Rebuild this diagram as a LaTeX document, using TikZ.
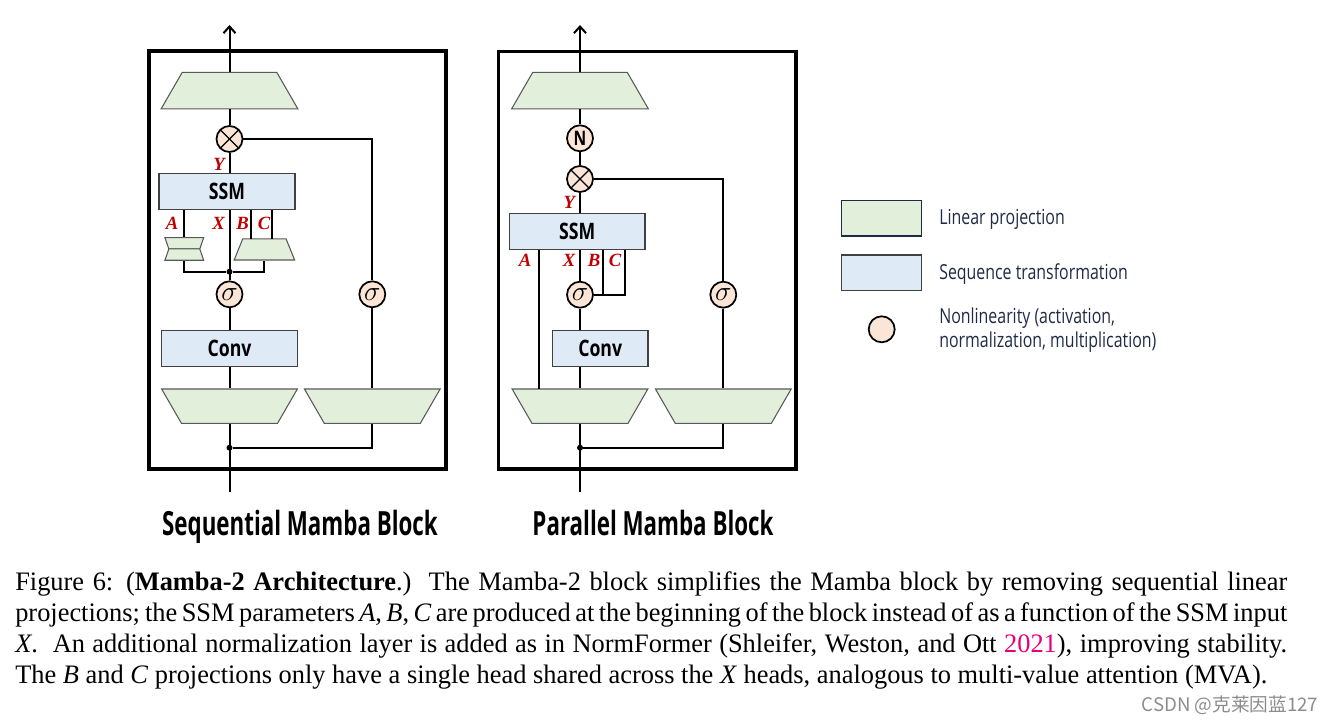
\documentclass[tikz,border=0pt]{standalone}
\usepackage{fontspec}
\usetikzlibrary{positioning,shapes.geometric,arrows.meta}
\setmainfont{Liberation Serif}
\newfontfamily\capfont[FakeStretch=0.99]{Liberation Serif}
\newfontfamily\condfont[FakeStretch=0.78]{Open Sans}
\newfontfamily\legfont[FakeStretch=0.77]{Open Sans}
\newfontfamily\titlefont[FakeStretch=0.67]{Open Sans}
\newfontfamily\cjkfont{Noto Sans CJK SC}
\definecolor{lingreen}{HTML}{E2EFDA}
\definecolor{seqblue}{HTML}{DEEBF7}
\definecolor{nlpeach}{HTML}{FBE5D6}
\definecolor{lblred}{HTML}{C00000}
\definecolor{citepink}{HTML}{E6007E}
\definecolor{legnavy}{HTML}{1F2A44}

\begin{document}
\begin{tikzpicture}[x=0.75pt,y=-0.75pt,
    wire/.style={line width=1.5pt},
    outarrow/.style={wire, -{Straight Barb[length=5pt,width=9pt]}},
    blockframe/.style={line width=2.3pt},
    lin/.style={trapezium, draw=black!65, line width=0.8pt, fill=lingreen,
      minimum width=0pt, minimum height=0pt},
    linup/.style={lin, trapezium angle=60, inner xsep=35.5pt, inner ysep=13.7pt},
    lindn/.style={lin, trapezium angle=120, inner xsep=36pt, inner ysep=12.9pt},
    linbc/.style={lin, trapezium angle=68, inner xsep=16.3pt, inner ysep=7.9pt},
    linaup/.style={lin, trapezium angle=109, inner xsep=11.6pt, inner ysep=4.25pt},
    linadn/.style={lin, trapezium angle=71, inner xsep=11.6pt, inner ysep=4.25pt},
    seq/.style={draw=black!75, line width=1pt, fill=seqblue, minimum height=27pt,
      font=\condfont\bfseries\fontsize{17}{17}\selectfont},
    nl/.style={circle, draw, line width=1.3pt, fill=nlpeach, minimum size=19.5pt,
      inner sep=0pt, font=\fontsize{22}{22}\selectfont},
    mul/.style={nl, path picture={
      \draw[line width=0.9pt] ([shift={(45:9.75pt)}]path picture bounding box.center)
        -- ([shift={(225:9.75pt)}]path picture bounding box.center);
      \draw[line width=0.9pt] ([shift={(135:9.75pt)}]path picture bounding box.center)
        -- ([shift={(315:9.75pt)}]path picture bounding box.center);}},
    dot/.style={circle, fill, inner sep=0pt, minimum size=4.5pt},
    lbl/.style={text=lblred, font=\bfseries\itshape\fontsize{14}{14}\selectfont, inner sep=0pt},
    title/.style={anchor=base, font=\titlefont\bfseries\fontsize{25}{25}\selectfont},
    legtxt/.style={anchor=west, inner sep=0pt, text=legnavy, align=left,
      font=\legfont\fontsize{15.5}{17.8}\selectfont}]
\useasboundingbox (0,0) rectangle (1332,723);

% sequential block
\draw[blockframe] (149,51) rectangle (446,469);
\node[linup] (outpL) at (229.5,90.7) {};
\node[mul] (mulL) at (229.5,139) {};
\node[lbl] (yL) at (219,164) {Y};
\node[seq, minimum width=102pt] (ssmL) at (227,191.3) {SSM};
\node[linaup] (aupL) at (184.3,243.3) {};
\node[linadn] (adnL) at (184.3,254.6) {};
\node[linbc] (bcL) at (264.4,249.5) {};
\coordinate (bL) at (251,239);
\coordinate (cL) at (272.3,239);
\node[lbl] (aLl) at (172,223) {A};
\node[lbl] (xLl) at (218.7,223) {X};
\node[lbl] (bLl) at (242.7,223) {B};
\node[lbl] (cLl) at (264,223) {C};
\node[dot] (jL) at (229.5,271.7) {};
\node[nl] (sig1L) at (229.5,294.3) {$\sigma$};
\node[nl] (sig2L) at (372.3,294.3) {$\sigma$};
\node[seq, minimum width=101.7pt] (convL) at (229.5,348.7) {Conv};
\node[lindn] (inpL) at (229.5,406.2) {};
\node[lindn] (gateL) at (372.3,406.2) {};
\node[dot] (dotL) at (229.5,447.7) {};
\coordinate (inL) at (229.5,492.3);
\coordinate (topL) at (229.5,25);

\draw[outarrow] (outpL.north) -- (topL);
\draw[wire] (mulL.north) -- (outpL.south);
\draw[wire] (ssmL.north -| mulL) -- (mulL.south);
\draw[wire] (mulL.east) -| (sig2L.north);
\draw[wire] (ssmL.south -| aupL) -- (aupL.north);
\draw[wire] (adnL.south) |- (jL);
\draw[wire] (jL) -| (bcL.south);
\draw[wire] (ssmL.south -| bL) -- (bL);
\draw[wire] (ssmL.south -| cL) -- (cL);
\draw[wire] (sig1L.north) -- (ssmL.south -| sig1L);
\draw[wire] (convL.north) -- (sig1L.south);
\draw[wire] (inpL.north) -- (convL.south);
\draw[wire] (gateL.north) -- (sig2L.south);
\draw[wire] (inL) -- (inpL.south);
\draw[wire] (dotL) -| (gateL.south);

% parallel block
\draw[blockframe] (498.3,51.7) rectangle (796,469);
\node[linup] (outpR) at (580,90.7) {};
\node[nl, font=\condfont\bfseries\fontsize{15}{15}\selectfont] (normR) at (580,138.3) {N};
\node[mul] (mulR) at (580,179) {};
\node[lbl] (yR) at (569.3,202.7) {Y};
\node[seq, minimum width=101.8pt] (ssmR) at (577.2,231.3) {SSM};
\coordinate (aR) at (539,389);
\coordinate (bR) at (603.3,294.7);
\coordinate (cR) at (625,294.7);
\node[lbl] (aRl) at (525,260) {A};
\node[lbl] (xRl) at (569,260) {X};
\node[lbl] (bRl) at (594,260) {B};
\node[lbl] (cRl) at (615,260) {C};
\node[nl] (sig1R) at (580,294.7) {$\sigma$};
\node[nl] (sig2R) at (723.3,294.7) {$\sigma$};
\node[seq, minimum width=71.8pt] (convR) at (600.2,348.7) {Conv};
\node[lindn] (inpR) at (580,406.2) {};
\node[lindn] (gateR) at (723.3,406.2) {};
\node[dot] (dotR) at (580,447.7) {};
\coordinate (inR) at (580,492.3);
\coordinate (topR) at (580,25);

\draw[outarrow] (outpR.north) -- (topR);
\draw[wire] (normR.north) -- (outpR.south);
\draw[wire] (mulR.north) -- (normR.south);
\draw[wire] (ssmR.north -| mulR) -- (mulR.south);
\draw[wire] (mulR.east) -| (sig2R.north);
\draw[wire] (ssmR.south -| aR) -- (aR);
\draw[wire] (ssmR.south -| sig1R) -- (sig1R.north);
\draw[wire] (ssmR.south -| bR) -- (bR);
\draw[wire] (ssmR.south -| cR) -- (cR) -- (sig1R.east);
\draw[wire] (sig1R.south) -- (convR.north -| sig1R);
\draw[wire] (convR.south -| sig1R) -- (inpR.north);
\draw[wire] (gateR.north) -- (sig2R.south);
\draw[wire] (inR) -- (inpR.south);
\draw[wire] (dotR) -| (gateR.south);

% titles
\node[title] (ttlL) at (300,536) {Sequential Mamba Block};
\node[title] (ttlR) at (653,536) {Parallel Mamba Block};

% legend
\node[draw=legnavy, line width=1pt, fill=lingreen, minimum width=60pt, minimum height=26.6pt] (lgLin) at (881.7,218.3) {};
\node[legtxt] (ltLin) at (939,219) {Linear projection};
\node[draw=black!75, line width=1pt, fill=seqblue, minimum width=60pt, minimum height=26.6pt] (lgSeq) at (881.7,272.8) {};
\node[legtxt] (ltSeq) at (939,274) {Sequence transformation};
\node[nl] (lgNl) at (881.7,329.3) {};
\node[legtxt] (ltNl) at (939,330) {Nonlinearity (activation,\\normalization, multiplication)};

% caption
\node[anchor=north west, inner sep=0pt, text width=954pt, align=justify,
  font=\capfont\fontsize{20}{23.3}\selectfont] (cap) at (15,571)
  {Figure 6: (\textbf{Mamba-2 Architecture}.)\ \ The Mamba-2 block simplifies the Mamba block by removing sequential linear\linebreak
  projections; the SSM parameters \textit{A}, \textit{B}, \textit{C} are produced at the beginning of the block instead of as a function of the SSM input\linebreak
  \textit{X}.\ \ An additional normalization layer is added as in NormFormer (Shleifer, Weston, and Ott \textcolor{citepink}{2021}), improving stability.\linebreak
  The \textit{B} and \textit{C} projections only have a single head shared across the \textit{X} heads, analogous to multi-value attention (MVA).};

\node[text=black!45, font=\cjkfont\fontsize{14}{14}\selectfont] (wm) at (1230,705) {CSDN @克莱因蓝127};
\end{tikzpicture}
\end{document}
